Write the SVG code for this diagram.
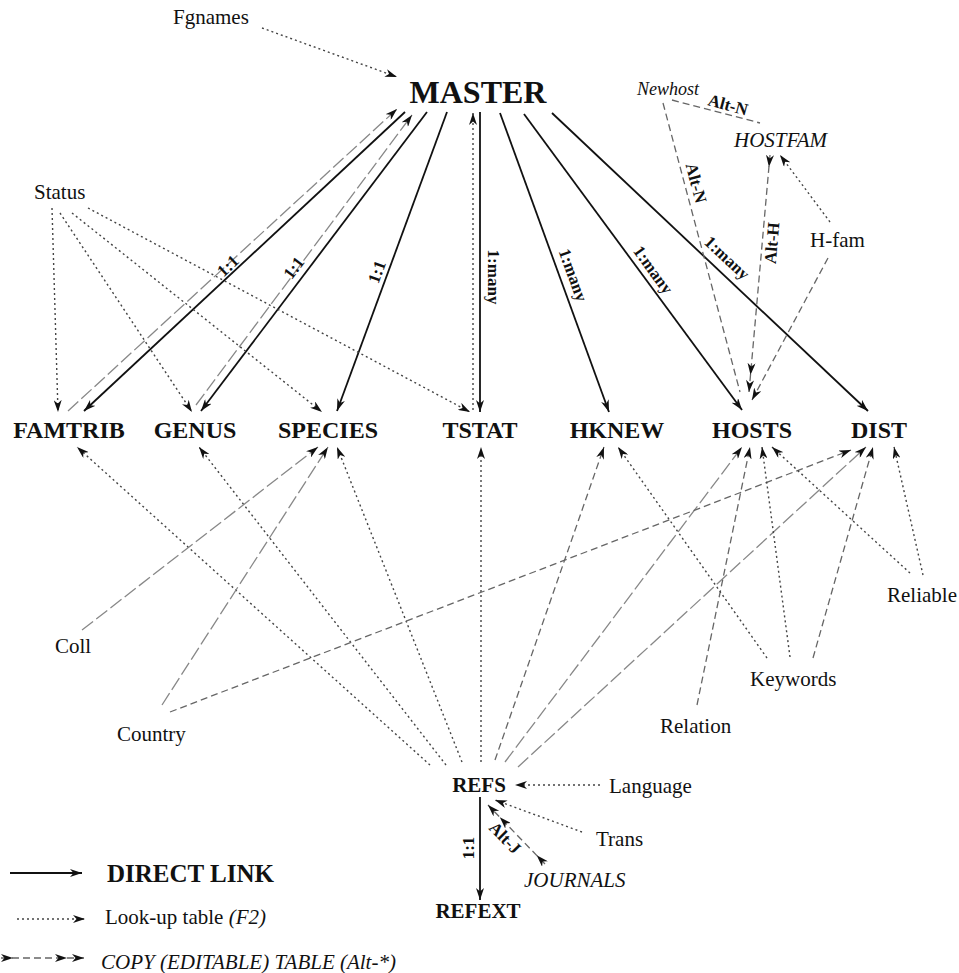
<svg xmlns="http://www.w3.org/2000/svg" width="959" height="973" viewBox="0 0 959 973">
<style>
text{font-family:"Liberation Serif","Times New Roman",serif;fill:#111}
.node{font-weight:bold;font-size:24px;text-anchor:middle}
.lbl{font-size:21px}
.it{font-style:italic}
.edge{font-weight:bold;font-size:17px;text-anchor:middle;dominant-baseline:central}
.direct{stroke:#111;stroke-width:1.8;fill:none;marker-end:url(#ah)}
.look{stroke:#444;stroke-width:1.4;fill:none;stroke-dasharray:2 3;marker-end:url(#ah)}
.copy{stroke:#666;stroke-width:1.3;fill:none;stroke-dasharray:7 4}
.faint{stroke:#888;stroke-width:1.3;fill:none;stroke-dasharray:14 4;marker-end:url(#ah)}
</style>
<defs>
<marker id="ah" viewBox="0 0 12 8" refX="12" refY="4" markerWidth="12" markerHeight="8" markerUnits="userSpaceOnUse" orient="auto"><path d="M0,0 L12,4 L0,8 L3.5,4 Z" fill="#111"/></marker>
<marker id="ah2" viewBox="0 0 29 8" refX="29" refY="4" markerWidth="29" markerHeight="8" markerUnits="userSpaceOnUse" orient="auto"><path d="M0,0 L12,4 L0,8 L3.5,4 Z M17,0 L29,4 L17,8 L20.5,4 Z" fill="#111"/></marker>
<marker id="tail" viewBox="0 0 12 8" refX="0" refY="4" markerWidth="12" markerHeight="8" markerUnits="userSpaceOnUse" orient="auto"><path d="M0,0 L12,4 L0,8 L3.5,4 Z" fill="#111"/></marker>
</defs>

<g id="connectors">
<line class="direct" x1="405" y1="112" x2="84" y2="411"/>
<line class="direct" x1="427" y1="112" x2="201" y2="411"/>
<line class="direct" x1="447" y1="112" x2="337" y2="411"/>
<line class="direct" x1="480" y1="112" x2="480" y2="412"/>
<line class="direct" x1="500" y1="113" x2="609" y2="412"/>
<line class="direct" x1="524" y1="114" x2="742" y2="410"/>
<line class="direct" x1="552" y1="113" x2="868" y2="411"/>
<line class="faint" x1="68" y1="411" x2="397" y2="109"/>
<line class="faint" x1="196" y1="405" x2="412" y2="115"/>
<line class="look" x1="473" y1="410" x2="473" y2="113"/>
<line class="look" x1="262" y1="28" x2="397" y2="77"/>
<line class="look" x1="52" y1="208" x2="58" y2="412"/>
<line class="look" x1="60" y1="213" x2="192" y2="412"/>
<line class="look" x1="72" y1="213" x2="322" y2="412"/>
<line class="look" x1="88" y1="208" x2="470" y2="412"/>
<line class="copy" x1="672" y1="100" x2="760" y2="123"/>
<line class="copy" x1="663" y1="103" x2="740" y2="392"/>
<line class="copy" x1="770" y1="155" x2="749" y2="392" style="marker-start:url(#tail);marker-end:url(#ah2)"/>
<line class="look" x1="830" y1="222" x2="780" y2="155"/>
<line class="copy" x1="828" y1="258" x2="752" y2="400" style="marker-end:url(#ah)"/>
<line class="look" x1="430" y1="765" x2="77" y2="447"/>
<line class="look" x1="446" y1="765" x2="199" y2="447"/>
<line class="look" x1="462" y1="762" x2="337" y2="447"/>
<line class="look" x1="481" y1="762" x2="481" y2="447"/>
<line class="copy" x1="495" y1="760" x2="604" y2="447" style="marker-end:url(#ah)"/>
<line class="faint" x1="505" y1="762" x2="742" y2="447"/>
<line class="faint" x1="518" y1="767" x2="866" y2="447"/>
<line class="faint" x1="82" y1="630" x2="318" y2="447"/>
<line class="faint" x1="162" y1="705" x2="328" y2="447"/>
<line class="copy" x1="170" y1="712" x2="851" y2="450" style="marker-end:url(#ah)"/>
<line class="copy" x1="697" y1="705" x2="750" y2="447" style="marker-end:url(#ah)"/>
<line class="look" x1="767" y1="658" x2="618" y2="447"/>
<line class="look" x1="790" y1="657" x2="762" y2="447"/>
<line class="copy" x1="813" y1="658" x2="873" y2="447" style="marker-end:url(#ah)"/>
<line class="look" x1="910" y1="573" x2="772" y2="447"/>
<line class="look" x1="923" y1="575" x2="894" y2="447"/>
<line class="look" x1="600" y1="785" x2="515" y2="785"/>
<line class="look" x1="582" y1="832" x2="495" y2="800"/>
<line class="copy" x1="545" y1="864" x2="488" y2="805" style="marker-start:url(#tail);marker-end:url(#ah2)"/>
<line class="direct" x1="480" y1="797" x2="480" y2="900"/>
<text class="edge" transform="translate(228,266) rotate(-43)">1:1</text>
<text class="edge" transform="translate(294,268) rotate(-53)">1:1</text>
<text class="edge" transform="translate(377,272) rotate(-70)">1:1</text>
<text class="edge" transform="translate(493,277) rotate(90)">1:many</text>
<text class="edge" transform="translate(573,275) rotate(70)">1:many</text>
<text class="edge" transform="translate(653,270) rotate(54)">1:many</text>
<text class="edge" transform="translate(727,258) rotate(43)">1:many</text>
<text class="edge" transform="translate(696,183) rotate(75)">Alt-N</text>
<text class="edge" transform="translate(772,243) rotate(-85)">Alt-H</text>
<text class="edge" transform="translate(728,105) rotate(15)">Alt-N</text>
<text class="edge" transform="translate(468,848) rotate(-90)">1:1</text>
<text class="edge" transform="translate(505,838) rotate(45)">Alt-J</text>
</g>

<g id="MASTER"><text x="478" y="103" style="font-weight:bold;font-size:32px;text-anchor:middle">MASTER</text></g>
<g id="FAMTRIB"><text class="node" x="69" y="438">FAMTRIB</text></g>
<g id="GENUS"><text class="node" x="195" y="438">GENUS</text></g>
<g id="SPECIES"><text class="node" x="328" y="438">SPECIES</text></g>
<g id="TSTAT"><text class="node" x="480" y="438">TSTAT</text></g>
<g id="HKNEW"><text class="node" x="617" y="438">HKNEW</text></g>
<g id="HOSTS"><text class="node" x="752" y="438">HOSTS</text></g>
<g id="DIST"><text class="node" x="879" y="438">DIST</text></g>
<g id="REFS"><text x="479" y="792" style="font-weight:bold;font-size:21px;text-anchor:middle">REFS</text></g>
<g id="REFEXT"><text x="478" y="918" style="font-weight:bold;font-size:21px;text-anchor:middle">REFEXT</text></g>
<g id="Fgnames"><text class="lbl" x="173" y="24">Fgnames</text></g>
<g id="Status"><text class="lbl" x="34" y="199">Status</text></g>
<g id="Newhost"><text class="it" x="637" y="95" style="font-size:18px">Newhost</text></g>
<g id="HOSTFAM"><text class="lbl it" x="734" y="147">HOSTFAM</text></g>
<g id="H-fam"><text class="lbl" x="810" y="247">H-fam</text></g>
<g id="Coll"><text class="lbl" x="55" y="653">Coll</text></g>
<g id="Country"><text class="lbl" x="117" y="741">Country</text></g>
<g id="Relation"><text class="lbl" x="660" y="733">Relation</text></g>
<g id="Keywords"><text class="lbl" x="750" y="686">Keywords</text></g>
<g id="Reliable"><text class="lbl" x="887" y="602">Reliable</text></g>
<g id="Language"><text class="lbl" x="609" y="793">Language</text></g>
<g id="Trans"><text class="lbl" x="596" y="846">Trans</text></g>
<g id="JOURNALS"><text class="lbl it" x="524" y="887">JOURNALS</text></g>

<g id="legend">
<line class="direct" x1="10" y1="873" x2="82" y2="873"/>
<text x="107" y="882" style="font-weight:bold;font-size:25px">DIRECT LINK</text>
<line class="look" x1="17" y1="919" x2="85" y2="919"/>
<text class="lbl" x="105" y="924">Look-up table <tspan class="it">(F2)</tspan></text>
<line class="copy" x1="1" y1="958" x2="84" y2="958" style="marker-start:url(#tail);marker-end:url(#ah2)"/>
<text class="lbl it" x="101" y="969">COPY (EDITABLE) TABLE (Alt-*)</text>
</g>
</svg>
